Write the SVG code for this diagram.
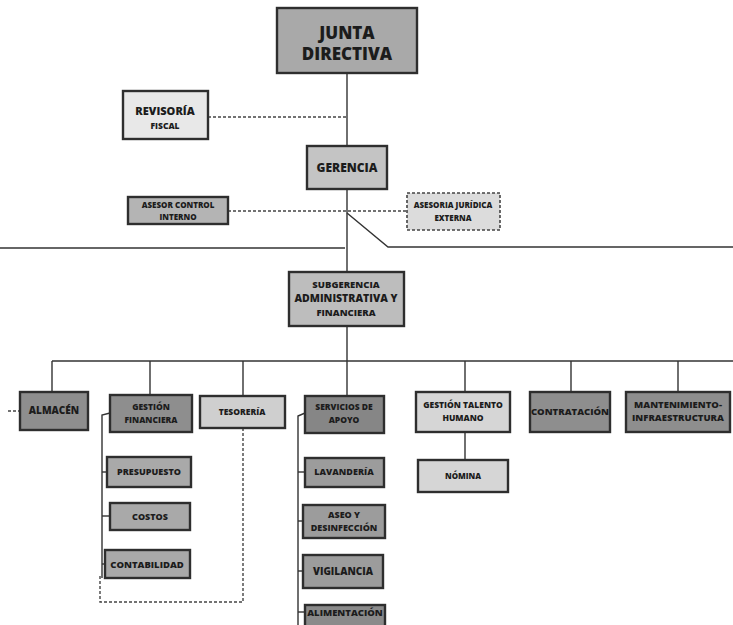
<svg xmlns="http://www.w3.org/2000/svg" width="733" height="625" viewBox="0 0 733 625">
<style>
text{font-family:"Open Sans","Liberation Sans",sans-serif;font-weight:800;fill:#1c1c1c;text-anchor:middle}
.b{stroke:#2e2e2e;stroke-width:2.4}
.dark{fill:#8e8e8e}
.mid{fill:#a9a9a9}
.light{fill:#d6d6d6}
.vlight{fill:#e8e8e8}
.s{font-size:8.5px}
.c{fill:none;stroke:#333;stroke-width:1.4}
.d{fill:none;stroke:#444;stroke-width:1.4;stroke-dasharray:3 2}
</style>
<rect width="733" height="625" fill="#ffffff"/>
<g id="connectors">
<line class="c" x1="347" y1="73" x2="347" y2="146"/>
<line class="d" x1="208" y1="117" x2="347" y2="117"/>
<line class="c" x1="347" y1="189" x2="347" y2="272"/>
<line class="d" x1="228" y1="211" x2="407" y2="211"/>
<polyline class="c" points="347,213 388,247 733,247"/>
<line class="c" x1="0" y1="248" x2="345" y2="248"/>
<line class="c" x1="347" y1="326" x2="347" y2="396"/>
<line class="c" x1="52" y1="361" x2="733" y2="361"/>
<line class="c" x1="52" y1="361" x2="52" y2="392"/>
<line class="c" x1="150" y1="361" x2="150" y2="395"/>
<line class="c" x1="243" y1="361" x2="243" y2="396"/>
<line class="c" x1="465" y1="361" x2="465" y2="392"/>
<line class="c" x1="571" y1="361" x2="571" y2="392"/>
<line class="c" x1="678" y1="361" x2="678" y2="392"/>
<line class="d" x1="8" y1="411" x2="20" y2="411"/>
<polyline class="c" points="110,413 102,415 102,578"/>
<line class="c" x1="102" y1="472" x2="107" y2="472"/>
<line class="c" x1="102" y1="516" x2="110" y2="516"/>
<line class="c" x1="102" y1="564" x2="105" y2="564"/>
<polyline class="d" points="243,428 243,602 100,602 100,575"/>
<polyline class="c" points="305,413 298,416 298,625"/>
<line class="c" x1="298" y1="472" x2="305" y2="472"/>
<line class="c" x1="298" y1="521" x2="303" y2="521"/>
<line class="c" x1="298" y1="571" x2="303" y2="571"/>
<line class="c" x1="298" y1="612" x2="305" y2="612"/>
<line class="c" x1="465" y1="432" x2="465" y2="460"/>
</g>
<g id="junta"><rect class="b mid" x="277" y="8" width="140" height="65"/><text x="347" y="39" font-size="17">JUNTA</text><text x="347" y="60" font-size="17">DIRECTIVA</text></g>
<g id="revisoria"><rect class="b vlight" x="123" y="91" width="85" height="48"/><text x="165" y="115" font-size="11">REVISORÍA</text><text x="165" y="129" font-size="8.5">FISCAL</text></g>
<g id="gerencia"><rect class="b" x="307" y="146" width="80" height="43" style="fill:#c4c4c4"/><text x="347" y="172" font-size="12">GERENCIA</text></g>
<g id="asesor"><rect class="b" x="128" y="197" width="100" height="27" style="fill:#b4b4b4"/><text x="178" y="207.5" font-size="8">ASESOR CONTROL</text><text x="178" y="219.5" font-size="8">INTERNO</text></g>
<g id="juridica"><rect x="407" y="193" width="93" height="37" fill="#dcdcdc" stroke="#444" stroke-width="1.6" stroke-dasharray="3 2"/><text x="453" y="208" font-size="8">ASESORIA JURÍDICA</text><text x="453" y="221" font-size="8">EXTERNA</text></g>
<g id="subgerencia"><rect class="b" x="289" y="272" width="115" height="54" style="fill:#bdbdbd"/><text x="346" y="288" font-size="9.5">SUBGERENCIA</text><text x="346" y="302" font-size="10.5">ADMINISTRATIVA Y</text><text x="346" y="316" font-size="9.5">FINANCIERA</text></g>
<g id="almacen"><rect class="b dark" x="20" y="392" width="68" height="38"/><text x="54" y="414" font-size="10">ALMACÉN</text></g>
<g id="gestion-financiera"><rect class="b dark" x="110" y="395" width="82" height="37"/><text class="s" x="151" y="410">GESTIÓN</text><text class="s" x="151" y="423">FINANCIERA</text></g>
<g id="tesoreria"><rect class="b" x="200" y="396" width="85" height="32" style="fill:#cfcfcf"/><text class="s" x="242" y="415">TESORERÍA</text></g>
<g id="servicios"><rect class="b" x="305" y="396" width="79" height="37" style="fill:#868686"/><text class="s" x="344" y="410">SERVICIOS DE</text><text class="s" x="344" y="423">APOYO</text></g>
<g id="talento"><rect class="b light" x="416" y="392" width="94" height="40"/><text class="s" x="463" y="408">GESTIÓN TALENTO</text><text class="s" x="463" y="421">HUMANO</text></g>
<g id="contratacion"><rect class="b dark" x="530" y="392" width="80" height="40"/><text x="570" y="415" font-size="9.5">CONTRATACIÓN</text></g>
<g id="mantenimiento"><rect class="b dark" x="626" y="392" width="104" height="40"/><text x="678" y="408" font-size="9.5">MANTENIMIENTO-</text><text x="678" y="421" font-size="9.5">INFRAESTRUCTURA</text></g>
<g id="presupuesto"><rect class="b mid" x="107" y="457" width="84" height="30"/><text x="149" y="475" font-size="9">PRESUPUESTO</text></g>
<g id="costos"><rect class="b mid" x="110" y="503" width="80" height="27"/><text x="150" y="520" font-size="9">COSTOS</text></g>
<g id="contabilidad"><rect class="b mid" x="105" y="550" width="85" height="28"/><text x="147" y="568" font-size="9.5">CONTABILIDAD</text></g>
<g id="lavanderia"><rect class="b" x="305" y="458" width="79" height="29" style="fill:#9c9c9c"/><text x="344" y="475" font-size="9">LAVANDERÍA</text></g>
<g id="aseo"><rect class="b" x="303" y="505" width="82" height="33" style="fill:#9c9c9c"/><text x="344" y="518" font-size="9">ASEO Y</text><text x="344" y="531" font-size="9">DESINFECCIÓN</text></g>
<g id="vigilancia"><rect class="b" x="303" y="555" width="80" height="33" style="fill:#9c9c9c"/><text x="343" y="575" font-size="10">VIGILANCIA</text></g>
<g id="alimentacion"><rect class="b" x="305" y="605" width="80" height="25" style="fill:#8a8a8a"/><text x="345" y="616" font-size="9.5">ALIMENTACIÓN</text></g>
<g id="nomina"><rect class="b light" x="418" y="460" width="90" height="32"/><text x="463" y="479" font-size="8">NÓMINA</text></g>
</svg>
